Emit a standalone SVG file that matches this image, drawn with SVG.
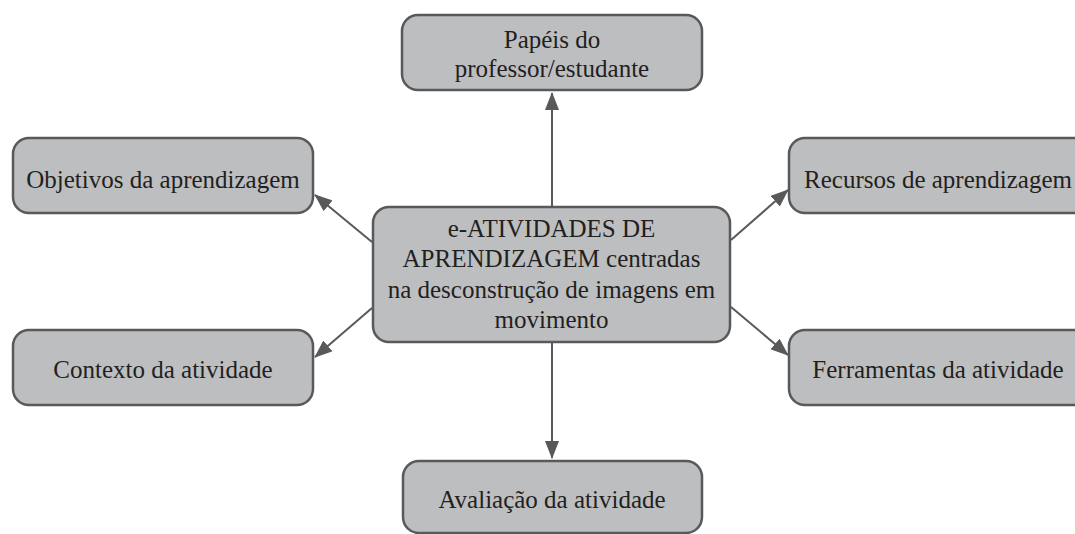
<svg xmlns="http://www.w3.org/2000/svg" width="1075" height="534" viewBox="0 0 1075 534">
<style>
.box{fill:#bcbec0;stroke:#58595b;stroke-width:2.5}
.t{font-family:'Liberation Serif',serif;font-size:25px;fill:#231f20;text-anchor:middle}
.c{stroke:#58595b;stroke-width:2;fill:none;marker-end:url(#ah)}
</style>
<defs>
<marker id="ah" markerUnits="userSpaceOnUse" markerWidth="18" markerHeight="14" viewBox="0 0 18 14" refX="17" refY="7" orient="auto">
<path d="M0,0 L18,7 L0,14 Z" fill="#58595b"/>
</marker>
</defs>
<g id="connectors">
<line class="c" x1="552" y1="207" x2="552" y2="93"/>
<line class="c" x1="552" y1="342" x2="552" y2="458"/>
<line class="c" x1="372" y1="242" x2="315" y2="195"/>
<line class="c" x1="372" y1="308" x2="315" y2="357"/>
<line class="c" x1="731" y1="240" x2="788" y2="190"/>
<line class="c" x1="731" y1="307" x2="788" y2="355"/>
</g>
<g id="center">
<rect class="box" x="373" y="207" width="357" height="135" rx="16"/>
<text class="t" x="551.5" y="237">e-ATIVIDADES DE</text>
<text class="t" x="551.5" y="267">APRENDIZAGEM centradas</text>
<text class="t" x="551.5" y="298">na desconstrução de imagens em</text>
<text class="t" x="551.5" y="328">movimento</text>
</g>
<g id="papeis">
<rect class="box" x="402" y="15" width="300" height="75" rx="16"/>
<text class="t" x="552" y="48">Papéis do</text>
<text class="t" x="552" y="77">professor/estudante</text>
</g>
<g id="objetivos">
<rect class="box" x="13" y="138" width="300" height="75" rx="16"/>
<text class="t" x="163" y="188">Objetivos da aprendizagem</text>
</g>
<g id="recursos">
<rect class="box" x="789" y="138" width="300" height="75" rx="16"/>
<text class="t" x="938" y="188">Recursos de aprendizagem</text>
</g>
<g id="contexto">
<rect class="box" x="13" y="330" width="300" height="75" rx="16"/>
<text class="t" x="163" y="378">Contexto da atividade</text>
</g>
<g id="ferramentas">
<rect class="box" x="789" y="330" width="300" height="75" rx="16"/>
<text class="t" x="938" y="378">Ferramentas da atividade</text>
</g>
<g id="avaliacao">
<rect class="box" x="403" y="461" width="299" height="72" rx="16"/>
<text class="t" x="552" y="508">Avaliação da atividade</text>
</g>
</svg>
